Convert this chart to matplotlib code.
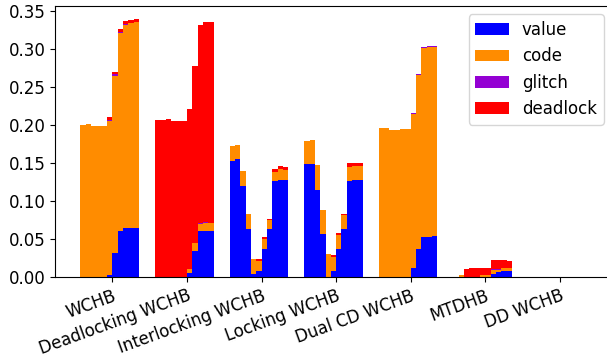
import matplotlib
matplotlib.use("Agg")
import matplotlib.pyplot as plt
import numpy as np

plt.rcParams['font.size'] = 12
plt.rcParams['font.family'] = ['DejaVu Sans']

categories = ["WCHB", "Deadlocking WCHB", "Interlocking WCHB", "Locking WCHB",
              "Dual CD WCHB", "MTDHB", "DD WCHB"]

value = [
    [0, 0, 0, 0, 0, 0.002, 0.032, 0.0607, 0.0646, 0.0646, 0.0646],
    [0, 0, 0, 0, 0, 0, 0.0057, 0.0343, 0.0607, 0.0607, 0.0607],
    [0.153, 0.1544, 0.12, 0.0633, 0.0045, 0.008, 0.037, 0.0633, 0.1266, 0.128, 0.128],
    [0.1478, 0.1478, 0.1148, 0.0567, 0, 0.008, 0.037, 0.0633, 0.1266, 0.128, 0.128],
    [0, 0, 0, 0, 0, 0, 0.0119, 0.037, 0.0528, 0.0528, 0.0541],
    [0, 0, 0, 0, 0, 0, 0, 0.004, 0.0066, 0.008, 0.008],
    [0, 0, 0, 0, 0, 0, 0, 0, 0, 0, 0],
]
code = [
    [0.199, 0.2005, 0.198, 0.198, 0.198, 0.2025, 0.2325, 0.2603, 0.2668, 0.2692, 0.2705],
    [0, 0, 0, 0, 0, 0, 0.0053, 0.0106, 0.0092, 0.0106, 0.0106],
    [0.0185, 0.0185, 0.0198, 0.0198, 0.0192, 0.0132, 0.0132, 0.0119, 0.0119, 0.0132, 0.0119],
    [0.0303, 0.0317, 0.0317, 0.0317, 0.0303, 0.0185, 0.0185, 0.0185, 0.0185, 0.0172, 0.0172],
    [0.1953, 0.1953, 0.1926, 0.1926, 0.1939, 0.1939, 0.2018, 0.2282, 0.2479, 0.2493, 0.2483],
    [0, 0.002, 0, 0, 0, 0.002, 0.003, 0.005, 0.002, 0.004, 0.004],
    [0, 0, 0, 0, 0, 0, 0, 0, 0, 0, 0],
]
glitch = [
    [0, 0, 0, 0, 0, 0.0013, 0.0015, 0.001, 0.001, 0.0004, 0.0004],
    [0, 0, 0, 0, 0, 0, 0, 0, 0.0008, 0.0008, 0],
    [0, 0, 0, 0, 0, 0, 0, 0, 0, 0, 0],
    [0, 0, 0, 0, 0, 0, 0, 0, 0, 0, 0],
    [0, 0, 0, 0, 0, 0, 0.0013, 0.0013, 0.0013, 0.0013, 0.001],
    [0, 0, 0, 0, 0, 0, 0, 0.0013, 0.0013, 0, 0],
    [0, 0, 0, 0, 0, 0, 0, 0, 0, 0, 0],
]
deadlock = [
    [0, 0, 0, 0, 0, 0.004, 0.003, 0.004, 0.004, 0.0035, 0.0035],
    [0.2058, 0.2058, 0.2071, 0.2045, 0.2045, 0.2045, 0.2093, 0.2321, 0.2603, 0.2629, 0.2637],
    [0, 0, 0, 0, 0, 0.0026, 0.0026, 0.0013, 0.004, 0.004, 0.004],
    [0, 0, 0, 0, 0, 0.0026, 0.0026, 0.0013, 0.004, 0.004, 0.004],
    [0, 0, 0, 0, 0, 0, 0, 0, 0, 0, 0],
    [0, 0, 0.0106, 0.0119, 0.0119, 0.0099, 0.0089, 0.0121, 0.0125, 0.0104, 0.0091],
    [0, 0, 0, 0, 0, 0, 0, 0, 0, 0, 0],
]

series = [("value", value, "#0000ff"), ("code", code, "#ff8c00"),
          ("glitch", glitch, "#9400d3"), ("deadlock", deadlock, "#ff0000")]

n_groups = len(categories)
n_bars = len(value[0])
w = 1 / 14

fig = plt.figure(figsize=(6.07, 3.56), dpi=100)
ax = fig.add_axes([55 / 607, 79 / 356, 557 / 607, 271 / 356])

for i in range(n_bars):
    xs = np.arange(n_groups) + (i - n_bars / 2) * w
    bottom = np.zeros(n_groups)
    for name, data, color in series:
        h = np.array([data[g][i] for g in range(n_groups)])
        ax.bar(xs, h, w, bottom=bottom, color=color, linewidth=0,
               label=name if i == 0 else None)
        bottom += h

ax.set_xticks(np.arange(n_groups))
ax.set_xticklabels(categories, rotation=20, ha='right', rotation_mode='anchor')
ax.legend(loc='upper right')

fig.savefig("out.png", dpi=100)
